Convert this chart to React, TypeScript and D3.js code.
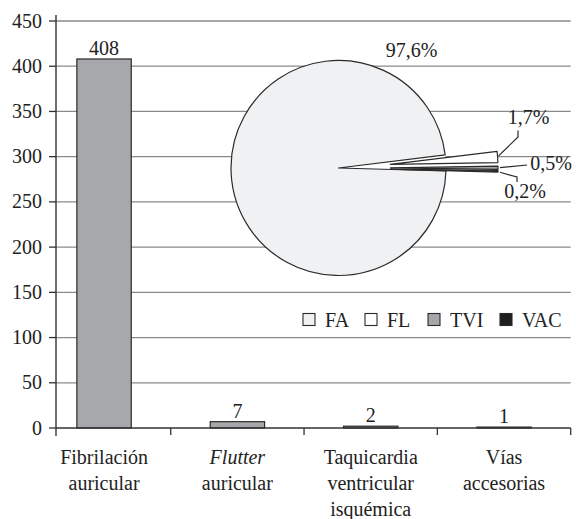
import React from "react";
import * as d3 from "d3";

const categories = ["Fibrilación auricular", "Flutter auricular", "Taquicardia ventricular isquémica", "Vías accesorias"];
const categoryLines = [
  ["Fibrilación", "auricular"],
  ["Flutter", "auricular"],
  ["Taquicardia", "ventricular", "isquémica"],
  ["Vías", "accesorias"],
];
const italicFirstLine = [false, true, false, false];
const counts = [408, 7, 2, 1];
const yTicks = [0, 50, 100, 150, 200, 250, 300, 350, 400, 450];
const pieKeys = ["FA", "FL", "TVI", "VAC"];
const pieLabels = ["97,6%", "1,7%", "0,5%", "0,2%"];

const W = 576;
const H = 519;
const FONT = '"Liberation Serif", "DejaVu Serif", serif';
const pieColors = ["#f0f1f3", "#ffffff", "#a6a7aa", "#1e1e1e"];
const txt: React.CSSProperties = { fontFamily: FONT, fontSize: "20px" };

export default function App() {
  const axisX = 56;
  const x = d3.scaleBand<string>().domain(categories).range([37.4, 570.7]).padding(0);
  const y = d3.scaleLinear().domain([0, 450]).range([428, 21]);
  const barW = x.bandwidth() * 0.408;
  const right = 570.7;

  // pie
  const cx = 338.5;
  const cy = 168;
  const r = 107.5;
  const explode = 52;
  const small = d3.sum(counts.slice(1)) / d3.sum(counts);
  const gapStart = (83 * Math.PI) / 180;
  const a0 = gapStart + small * 2 * Math.PI;
  const pie = d3.pie<number>().sort(null).value((d) => d).startAngle(a0).endAngle(a0 + 2 * Math.PI);
  const arcs = pie(counts);
  const arc = d3.arc<d3.PieArcDatum<number>>().innerRadius(0).outerRadius(r);

  const offsetOf = (i: number) => {
    if (i === 0) return [0, 0];
    const a = (arcs[i].startAngle + arcs[i].endAngle) / 2;
    return [Math.sin(a) * explode, -Math.cos(a) * explode];
  };
  const outerPt = (i: number) => {
    const a = (arcs[i].startAngle + arcs[i].endAngle) / 2;
    const [ox, oy] = offsetOf(i);
    return [cx + ox + Math.sin(a) * r, cy + oy - Math.cos(a) * r];
  };

  const p1 = outerPt(1);
  const p2 = outerPt(2);
  const p3 = outerPt(3);
  const leaders = [
    null,
    [[p1[0] + 1, p1[1] - 1], [518, 137], [518, 130.5]],
    [[p2[0] + 2, p2[1]], [527, 165]],
    [[p3[0] + 2, p3[1] + 1], [517, 177], [517, 182]],
  ];
  const labelPos: [number, number][] = [
    [cx + 73, 57],
    [528.5, 124],
    [551, 170],
    [525, 198],
  ];

  const legendX = [303, 365, 428, 500];

  return (
    <svg width={W} height={H} style={{ position: "absolute", left: 0, top: 0, background: "#fff" }}>
      <rect x={0} y={0} width={W} height={H} fill="#fff" />
      {yTicks.filter((t) => t > 0).map((t) => (
        <line key={t} x1={axisX} x2={right} y1={y(t)} y2={y(t)} stroke="#8a8a8a" strokeWidth={1.3} />
      ))}
      {counts.map((v, i) => {
        const bx = x(categories[i])! + x.bandwidth() / 2 - barW / 2;
        return (
          <g key={i}>
            <rect x={bx} y={y(v)} width={barW} height={y(0) - y(v)} fill="#a7a8ab" stroke="#2a2a2a" strokeWidth={1.2} />
            <text x={bx + barW / 2} y={y(v) - 4} textAnchor="middle" style={txt} fill="#222">
              {v}
            </text>
          </g>
        );
      })}
      <line x1={axisX} x2={axisX} y1={15} y2={436} stroke="#333" strokeWidth={1.4} />
      <line x1={axisX} x2={right} y1={y(0)} y2={y(0)} stroke="#333" strokeWidth={1.4} />
      {yTicks.map((t) => (
        <g key={t}>
          <line x1={axisX - 7} x2={axisX} y1={y(t)} y2={y(t)} stroke="#333" strokeWidth={1.3} />
          <text x={42} y={y(t)} dy="0.33em" textAnchor="end" style={txt} fill="#222">
            {t}
          </text>
        </g>
      ))}
      {categories.map((c) => {
        const edge = x(c)! + x.bandwidth();
        return <line key={c} x1={edge} x2={edge} y1={y(0)} y2={y(0) + 7} stroke="#333" strokeWidth={1.3} />;
      })}
      {categoryLines.map((lines, i) => (
        <text key={i} textAnchor="middle" style={txt} fill="#222">
          {lines.map((ln, j) => (
            <tspan key={j} x={x(categories[i])! + x.bandwidth() / 2} y={464 + j * 26} fontStyle={j === 0 && italicFirstLine[i] ? "italic" : "normal"}>
              {ln}
            </tspan>
          ))}
        </text>
      ))}
      <circle cx={cx} cy={cy} r={r} fill="#fff" />
      {arcs.map((a, i) => {
        const [ox, oy] = offsetOf(i);
        return (
          <path key={i} d={arc(a)!} transform={`translate(${cx + ox},${cy + oy})`} fill={pieColors[i]} stroke="#2a2a2a" strokeWidth={1.2} strokeLinejoin="round" />
        );
      })}
      {leaders.map((pts, i) =>
        pts ? <polyline key={i} points={pts.map((p) => p.join(",")).join(" ")} fill="none" stroke="#2a2a2a" strokeWidth={1.2} /> : null
      )}
      {pieLabels.map((l, i) => (
        <text key={l} x={labelPos[i][0]} y={labelPos[i][1]} textAnchor="middle" style={txt} fill="#222">
          {l}
        </text>
      ))}
      {pieKeys.map((k, i) => (
        <g key={k}>
          <rect x={legendX[i]} y={313.5} width={12} height={12} fill={pieColors[i]} stroke="#2a2a2a" strokeWidth={1.1} />
          <text x={legendX[i] + 22} y={327} style={txt} fill="#222">
            {k}
          </text>
        </g>
      ))}
    </svg>
  );
}
